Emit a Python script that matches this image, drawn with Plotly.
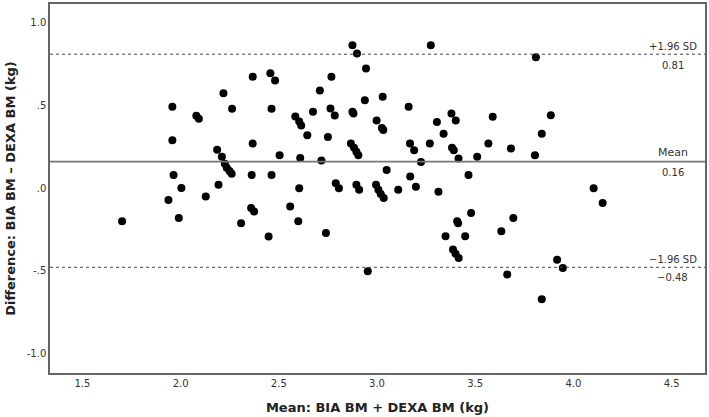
import plotly.graph_objects as go

# Bland-Altman data: mean of methods (x) and difference (y)
mean_bm = [
    1.702, 1.938, 1.958, 1.958, 1.964, 1.991, 2.004, 2.080, 2.093, 2.128,
    2.186, 2.210, 2.193, 2.218, 2.225, 2.235, 2.249, 2.260, 2.262, 2.308,
    2.362, 2.367, 2.367, 2.359, 2.374, 2.448, 2.457, 2.481, 2.463, 2.463,
    2.504, 2.558, 2.584, 2.604, 2.614, 2.609, 2.604, 2.599, 2.645, 2.674,
    2.709, 2.717, 2.740, 2.750, 2.768, 2.763, 2.785, 2.790, 2.806, 2.867,
    2.883, 2.895, 2.905, 2.875, 2.898, 2.875, 2.880, 2.895, 2.909, 2.938,
    2.944, 2.953, 2.995, 3.007, 3.019, 3.034, 2.998, 3.025, 3.032, 3.029,
    3.049, 3.108, 3.161, 3.168, 3.189, 3.169, 3.198, 3.224, 3.269, 3.274,
    3.305, 3.313, 3.339, 3.349, 3.379, 3.401, 3.382, 3.391, 3.387, 3.400,
    3.416, 3.408, 3.413, 3.415, 3.449, 3.466, 3.479, 3.510, 3.567, 3.589,
    3.633, 3.663, 3.682, 3.694, 3.804, 3.809, 3.839, 3.839, 3.885, 3.917,
    3.946, 4.103, 4.149,
]
diff_bm = [
    -0.202, -0.072, 0.492, 0.289, 0.079, -0.181, -0.000, 0.437, 0.419, -0.052,
    0.231, 0.189, 0.019, 0.573, 0.147, 0.123, 0.103, 0.087, 0.480, -0.214,
    0.079, 0.674, 0.269, -0.121, -0.142, -0.294, 0.694, 0.651, 0.480, 0.079,
    0.199, -0.112, 0.433, 0.403, 0.379, 0.181, -0.001, -0.202, 0.319, 0.462,
    0.591, 0.166, -0.272, 0.309, 0.674, 0.481, 0.439, 0.029, -0.001, 0.269,
    0.243, 0.219, 0.199, 0.864, 0.814, 0.462, 0.451, 0.019, -0.011, 0.531,
    0.724, -0.504, 0.019, -0.011, -0.037, -0.061, 0.409, 0.363, 0.351, 0.552,
    0.109, -0.011, 0.492, 0.269, 0.229, 0.069, 0.008, 0.158, 0.269, 0.864,
    0.399, -0.022, 0.329, -0.292, 0.451, 0.409, 0.243, 0.229, -0.372, -0.398,
    -0.424, -0.202, -0.214, 0.179, -0.292, 0.079, -0.151, 0.189, 0.269, 0.431,
    -0.262, -0.524, 0.239, -0.181, 0.199, 0.792, 0.329, -0.674, 0.441, -0.434,
    -0.484, -0.001, -0.091,
]

mean_diff = 0.16
upper_loa = 0.81
lower_loa = -0.48

x_tickvals = [1.5, 2.0, 2.5, 3.0, 3.5, 4.0, 4.5]
x_ticktext = ["1.5", "2.0", "2.5", "3.0", "3.5", "4.0", "4.5"]
y_tickvals = [1.0, 0.5, 0.0, -0.5, -1.0]
y_ticktext = ["1.0", ".5", ".0", "-.5", "-1.0"]

font_family = "DejaVu Sans"

fig = go.Figure()
fig.add_trace(go.Scatter(
    x=mean_bm, y=diff_bm, mode="markers",
    marker=dict(color="black", size=8, line=dict(width=0)),
    showlegend=False, hoverinfo="x+y",
))

# reference lines
fig.add_shape(type="line", xref="paper", x0=0, x1=1, yref="y", y0=upper_loa, y1=upper_loa,
              line=dict(color="#444444", width=1, dash="dot"))
fig.add_shape(type="line", xref="paper", x0=0, x1=1, yref="y", y0=mean_diff, y1=mean_diff,
              line=dict(color="#777777", width=1.6))
fig.add_shape(type="line", xref="paper", x0=0, x1=1, yref="y", y0=lower_loa, y1=lower_loa,
              line=dict(color="#444444", width=1, dash="dot"))

ann_font = dict(family=font_family, size=10, color="#333333")
ax_x = 0.951
annotations = [
    dict(text="+1.96 SD", y=upper_loa, yshift=8),
    dict(text=f"{upper_loa:.2f}", y=upper_loa, yshift=-11),
    dict(text="Mean", y=mean_diff, yshift=9, size=11),
    dict(text=f"{mean_diff:.2f}", y=mean_diff, yshift=-11),
    dict(text="\u22121.96 SD", y=lower_loa, yshift=8),
    dict(text=f"\u2212{abs(lower_loa):.2f}", y=lower_loa, yshift=-10),
]
for a in annotations:
    f = dict(ann_font)
    if "size" in a:
        f["size"] = a["size"]
    fig.add_annotation(x=ax_x, xref="paper", y=a["y"], yref="y", text=a["text"],
                       showarrow=False, xanchor="center", yanchor="middle",
                       yshift=a["yshift"], font=f)

fig.update_layout(
    width=709, height=417,
    margin=dict(l=50, r=2, t=2, b=44),
    plot_bgcolor="white", paper_bgcolor="white",
    font=dict(family=font_family, color="#333333"),
)
fig.update_xaxes(
    range=[1.335, 4.67], tickvals=x_tickvals, ticktext=x_ticktext,
    showgrid=False, zeroline=False, showline=True, mirror=True,
    linecolor="#666666", linewidth=1.5, ticks="", ticklen=0,
    tickfont=dict(size=10, color="#333333"),
    title=dict(text="<b>Mean: BIA BM + DEXA BM (kg)</b>",
               font=dict(size=13, color="#222222"), standoff=15),
)
fig.update_yaxes(
    range=[-1.12, 1.114], tickvals=y_tickvals, ticktext=y_ticktext,
    showgrid=False, zeroline=False, showline=True, mirror=True,
    linecolor="#666666", linewidth=1.5, ticks="", ticklen=0,
    tickfont=dict(size=10, color="#333333"),
    title=dict(text="<b>Difference: BIA BM \u2013 DEXA BM (kg)</b>",
               font=dict(size=13, color="#222222"), standoff=8),
)

fig.write_html(
    "out.html",
    config={"displayModeBar": False},
    post_script="document.body.style.margin='0';document.body.style.overflow='hidden';",
)
